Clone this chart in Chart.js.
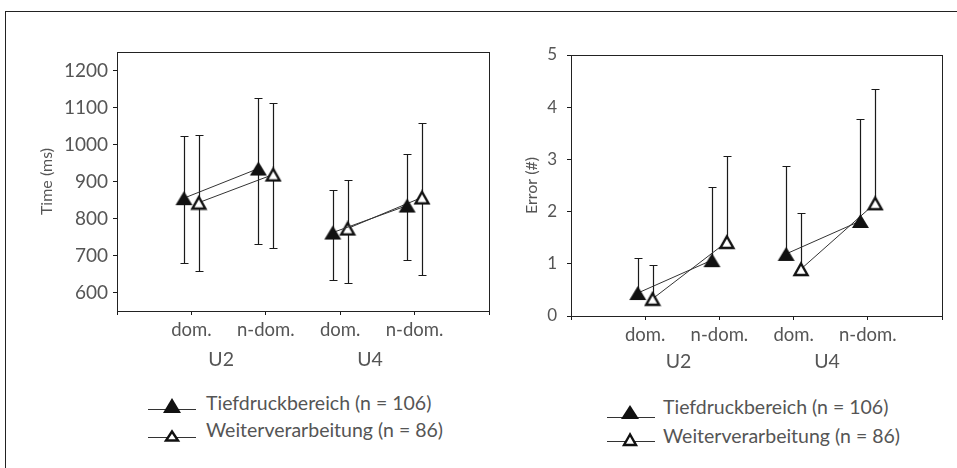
<!DOCTYPE html>
<html>
<head>
<meta charset="utf-8">
<script src="https://cdn.jsdelivr.net/npm/chart.js@4.4.1/dist/chart.umd.min.js"></script>
<style>
  body { margin: 0; width: 957px; height: 468px; overflow: hidden; background: #fff; font-family: Lato, "Open Sans", sans-serif; color: #555; }
  #frame { position: absolute; left: 5px; top: 11px; width: 960px; height: 470px; border-left: 1.5px solid #222; border-top: 1.5px solid #222; }
  canvas { position: absolute; top: 0; }
  #timeChart { left: 0; }
  #errorChart { left: 480px; }
  .lg { position: absolute; font-size: 19.5px; line-height: 22px; white-space: nowrap; }
  .mk { position: absolute; }
</style>
</head>
<body>
<div id="frame"></div>
<canvas id="timeChart" width="500" height="380"></canvas>
<canvas id="errorChart" width="477" height="380"></canvas>

<svg class="mk" style="left:148px;top:396px" width="48" height="20"><line x1="0" x2="48" y1="13.5" y2="13.5" stroke="#333" stroke-width="1.2"/><polygon points="24,2 15,17 33,17" fill="#111"/></svg>
<span class="lg" id="lgT1" style="left:206px;top:392px"></span>
<svg class="mk" style="left:148px;top:426px" width="48" height="20"><line x1="0" x2="48" y1="11.5" y2="11.5" stroke="#333" stroke-width="1.2"/><polygon points="24,5.5 18,14.5 30,14.5" fill="#fff" stroke="#111" stroke-width="2.4"/></svg>
<span class="lg" id="lgT2" style="left:206px;top:419px"></span>

<svg class="mk" style="left:607px;top:403px" width="48" height="20"><line x1="0" x2="48" y1="14.5" y2="14.5" stroke="#333" stroke-width="1.2"/><polygon points="23,2 14,16 32,16" fill="#111"/></svg>
<span class="lg" id="lgE1" style="left:663px;top:396px"></span>
<svg class="mk" style="left:607px;top:430px" width="48" height="20"><line x1="0" x2="48" y1="11.5" y2="11.5" stroke="#333" stroke-width="1.2"/><polygon points="23,4.5 17,15 29,15" fill="#fff" stroke="#111" stroke-width="2.4"/></svg>
<span class="lg" id="lgE2" style="left:663px;top:425px"></span>

<script>
// categories on the x axis, grouped by task
const xCats = ['dom.', 'n-dom.', 'dom.', 'n-dom.'];
const groupLabels = ['U2', 'U4'];
const seriesLabels = ['Tiefdruckbereich (n = 106)', 'Weiterverarbeitung (n = 86)'];

// Time (ms): mean, lower and upper end of the bars
const timeTief = [855, 935, 762, 835];
const timeTiefLow = [681, 732, 635, 687];
const timeTiefHigh = [1024, 1127, 878, 973];
const timeWeiter = [843, 919, 773, 857];
const timeWeiterLow = [657, 719, 625, 646];
const timeWeiterHigh = [1027, 1111, 905, 1058];
const timeTicks = [600, 700, 800, 900, 1000, 1100, 1200];

// Error (#): mean and upper end (bars only go up)
const errTief = [0.44, 1.07, 1.19, 1.82];
const errTiefHigh = [1.11, 2.48, 2.88, 3.78];
const errWeiter = [0.33, 1.42, 0.90, 2.16];
const errWeiterHigh = [0.98, 3.07, 1.97, 4.35];
const errorTicks = [0, 1, 2, 3, 4, 5];

document.getElementById('lgT1').textContent = seriesLabels[0];
document.getElementById('lgT2').textContent = seriesLabels[1];
document.getElementById('lgE1').textContent = seriesLabels[0];
document.getElementById('lgE2').textContent = seriesLabels[1];

const ink = '#1a1a1a';
const textCol = '#555';

// triangle markers, centred on their bounding box
function triangle(filled) {
  const c = document.createElement('canvas');
  const w = filled ? 19 : 18, h = 16;
  c.width = w; c.height = h;
  const g = c.getContext('2d');
  g.beginPath();
  if (filled) {
    g.moveTo(w / 2, 1); g.lineTo(18, 15); g.lineTo(1, 15);
  } else {
    g.moveTo(w / 2, 2.5); g.lineTo(15.5, 14); g.lineTo(2.5, 14);
  }
  g.closePath();
  if (filled) { g.fillStyle = '#111'; g.fill(); }
  else { g.fillStyle = '#fff'; g.fill(); g.lineWidth = 2.4; g.strokeStyle = '#111'; g.stroke(); }
  return c;
}
const triFilled = triangle(true);
const triOpen = triangle(false);

// one point per category, shifted sideways; a gap between U2 and U4
function points(values, lows, highs, shift) {
  const pts = [];
  values.forEach((v, i) => {
    if (i === 2) pts.push({ x: 2.5, y: null });
    pts.push({ x: i + 1 + shift, y: v, lo: lows ? lows[i] : v, hi: highs[i] });
  });
  return pts;
}

const errorBars = {
  id: 'errorBars',
  beforeDatasetsDraw(chart) {
    const { ctx, scales: { x, y } } = chart;
    ctx.save();
    ctx.strokeStyle = ink;
    ctx.lineWidth = 1.2;
    chart.data.datasets.forEach(ds => ds.data.forEach(p => {
      if (p.y == null) return;
      const px = Math.round(x.getPixelForValue(p.x)) + 0.5;
      const top = Math.round(y.getPixelForValue(p.hi)) + 0.5;
      const bot = Math.round(y.getPixelForValue(p.lo)) + 0.5;
      ctx.beginPath();
      ctx.moveTo(px, top); ctx.lineTo(px, bot);
      ctx.moveTo(px - 4, top); ctx.lineTo(px + 4, top);
      if (p.lo < p.y) { ctx.moveTo(px - 4, bot); ctx.lineTo(px + 4, bot); }
      ctx.stroke();
    }));
    // plot frame
    const a = chart.chartArea;
    ctx.lineWidth = 1;
    ctx.strokeStyle = '#222';
    ctx.strokeRect(Math.round(a.left) + 0.5, Math.round(a.top) + 0.5,
      Math.round(a.right - a.left), Math.round(a.bottom - a.top));
    ctx.restore();
  },
  afterDraw(chart, args, opts) {
    const { ctx, scales: { x } } = chart;
    ctx.save();
    ctx.font = opts.size + 'px Lato, "Open Sans", sans-serif';
    ctx.fillStyle = textCol;
    ctx.textAlign = 'center';
    ctx.textBaseline = 'middle';
    groupLabels.forEach((g, i) => ctx.fillText(g, x.getPixelForValue(opts.at[i]), opts.y));
    ctx.restore();
  }
};

function makeChart(el, o) {
  const series = (data, filled) => ({
    data,
    borderColor: '#333',
    borderWidth: 1,
    pointStyle: filled ? triFilled : triOpen,
    pointRadius: 9,
    pointHoverRadius: 9,
    spanGaps: false,
    tension: 0
  });
  return new Chart(el, {
    type: 'line',
    data: {
      datasets: [
        series(o.first, true),
        series(o.second, false)
      ]
    },
    options: {
      responsive: false,
      animation: false,
      events: [],
      layout: { padding: { top: o.top, right: o.right, left: 0, bottom: 0 } },
      plugins: {
        legend: { display: false },
        tooltip: { enabled: false },
        errorBars: { at: o.groupAt, y: o.groupY, size: 19.5 }
      },
      scales: {
        x: {
          type: 'linear', min: 0, max: 5,
          afterBuildTicks: s => { s.ticks = [0, 1, 2, 3, 4, 5].map(v => ({ value: v })); },
          afterFit: s => { s.height = o.xHeight; },
          border: { display: false },
          grid: { drawOnChartArea: false, drawTicks: true, tickLength: 4, color: ink },
          ticks: {
            autoSkip: false, maxRotation: 0, padding: 4, color: textCol,
            font: { family: 'Lato', size: 18.5 },
            callback: v => (v >= 1 && v <= 4 ? xCats[v - 1] : '')
          }
        },
        y: {
          min: o.min, max: o.max,
          afterBuildTicks: s => { s.ticks = o.ticks.map(v => ({ value: v })); },
          afterFit: s => { s.width = o.yWidth; },
          border: { display: false },
          grid: { drawOnChartArea: false, drawTicks: true, tickLength: 4, color: ink },
          ticks: {
            padding: o.tickPad, color: textCol,
            font: { family: 'Lato', size: o.tickSize },
            callback: v => String(v)
          },
          title: {
            display: true, text: o.title, color: textCol,
            font: { family: 'Lato', size: 16 },
            padding: { top: o.titlePad, bottom: 0 }
          }
        }
      }
    },
    plugins: [errorBars]
  });
}

makeChart(document.getElementById('timeChart'), {
  first: points(timeTief, timeTiefLow, timeTiefHigh, -0.1),
  second: points(timeWeiter, timeWeiterLow, timeWeiterHigh, 0.1),
  min: 550, max: 1250, ticks: timeTicks,
  title: 'Time (ms)', titlePad: 37,
  top: 52, right: 11, yWidth: 117, xHeight: 69,
  tickPad: 5, tickSize: 19,
  groupAt: [1.4, 3.4], groupY: 360
});

makeChart(document.getElementById('errorChart'), {
  first: points(errTief, null, errTiefHigh, -0.1),
  second: points(errWeiter, null, errWeiterHigh, 0.1),
  min: 0, max: 5, ticks: errorTicks,
  title: 'Error (#)', titlePad: 42,
  top: 55, right: 15, yWidth: 91, xHeight: 64,
  tickPad: 10, tickSize: 17,
  groupAt: [1.45, 3.45], groupY: 362
});
</script>
</body>
</html>
